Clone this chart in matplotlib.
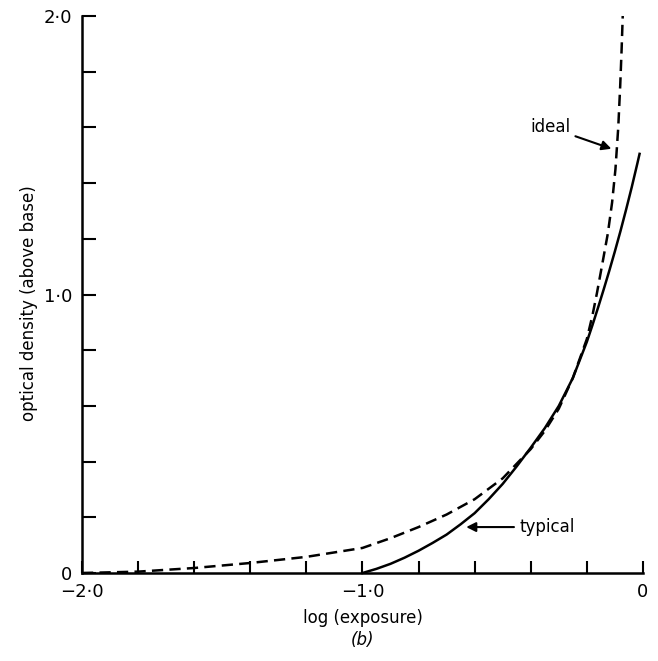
import matplotlib
matplotlib.use("Agg")
import matplotlib.pyplot as plt
import numpy as np

# ── данни, отчетени от картинката ──────────────────────────
# ideal (пунктир)
ideal_x = [-2.0, -1.8, -1.6, -1.4, -1.2, -1.0, -0.9, -0.8, -0.7, -0.6,
           -0.5, -0.4, -0.35, -0.3, -0.25, -0.2, -0.18, -0.164, -0.143,
           -0.125, -0.11, -0.098, -0.088, -0.081, -0.076, -0.072]
ideal_y = [0.0, 0.005, 0.018, 0.036, 0.058, 0.09, 0.125, 0.165, 0.21, 0.265,
           0.34, 0.445, 0.51, 0.59, 0.70, 0.84, 0.925, 1.005, 1.12,
           1.22, 1.33, 1.45, 1.60, 1.75, 1.88, 2.0]

# typical (плътна)
typical_x = [-1.0, -0.95, -0.9, -0.85, -0.8, -0.75, -0.7, -0.65, -0.6, -0.55,
             -0.5, -0.45, -0.4, -0.35, -0.3, -0.25, -0.2, -0.18, -0.16,
             -0.14, -0.12, -0.1, -0.08, -0.06, -0.04, -0.02, -0.012]
typical_y = [0.0, 0.015, 0.033, 0.055, 0.08, 0.108, 0.138, 0.175, 0.215, 0.265,
             0.32, 0.383, 0.45, 0.52, 0.60, 0.70, 0.83, 0.89, 0.953,
             1.018, 1.085, 1.155, 1.228, 1.305, 1.385, 1.47, 1.505]

x_ticks = np.round(np.arange(-2.0, 0.01, 0.2), 1)
x_labels = {-2.0: "\u22122\u00b70", -1.0: "\u22121\u00b70", 0.0: "0"}
y_ticks = np.round(np.arange(0.0, 2.01, 0.2), 1)
y_labels = {0.0: "0", 1.0: "1\u00b70", 2.0: "2\u00b70"}

LW = 1.8
FS = 13

fig = plt.figure(figsize=(6.58, 6.61), dpi=100)
ax = fig.add_axes([0.1246, 0.1331, 0.8525, 0.8427])

ax.plot(ideal_x, ideal_y, color="black", lw=LW, dashes=(4.5, 2.5),
        solid_capstyle="butt", clip_on=False)
ax.plot(typical_x, typical_y, color="black", lw=LW, clip_on=False)

ax.set_xlim(-2.0, 0.0)
ax.set_ylim(0.0, 2.0)

ax.set_xticks(x_ticks)
ax.set_xticklabels([x_labels.get(float(t), "") for t in x_ticks])
ax.set_yticks(y_ticks)
ax.set_yticklabels([y_labels.get(float(t), "") for t in y_ticks])

ax.tick_params(axis="x", direction="in", length=9, width=1.5, pad=7,
               labelsize=FS)
ax.tick_params(axis="y", direction="in", length=10, width=1.5, pad=7,
               labelsize=FS)

for side in ("top", "right"):
    ax.spines[side].set_visible(False)
for side in ("left", "bottom"):
    ax.spines[side].set_linewidth(1.8)

ax.set_xlabel("log (exposure)", fontsize=12, labelpad=6)
ax.set_ylabel("optical density (above base)", fontsize=12)
ax.yaxis.set_label_coords(-0.078, 0.485)

fig.text(0.5515, 0.018, "(b)", fontsize=12, style="italic",
         ha="center", va="bottom")

# ── стрелки с надписи ──────────────────────────────────────
arrow = dict(arrowstyle="-|>", color="black", lw=1.5, mutation_scale=14)
ax.annotate("ideal", xy=(-0.103, 1.52), xytext=(-0.26, 1.60),
            fontsize=12, ha="right", va="center", arrowprops=arrow)
ax.annotate("typical", xy=(-0.64, 0.165), xytext=(-0.44, 0.165),
            fontsize=12, ha="left", va="center", arrowprops=arrow)

fig.savefig("out.png", dpi=100)
